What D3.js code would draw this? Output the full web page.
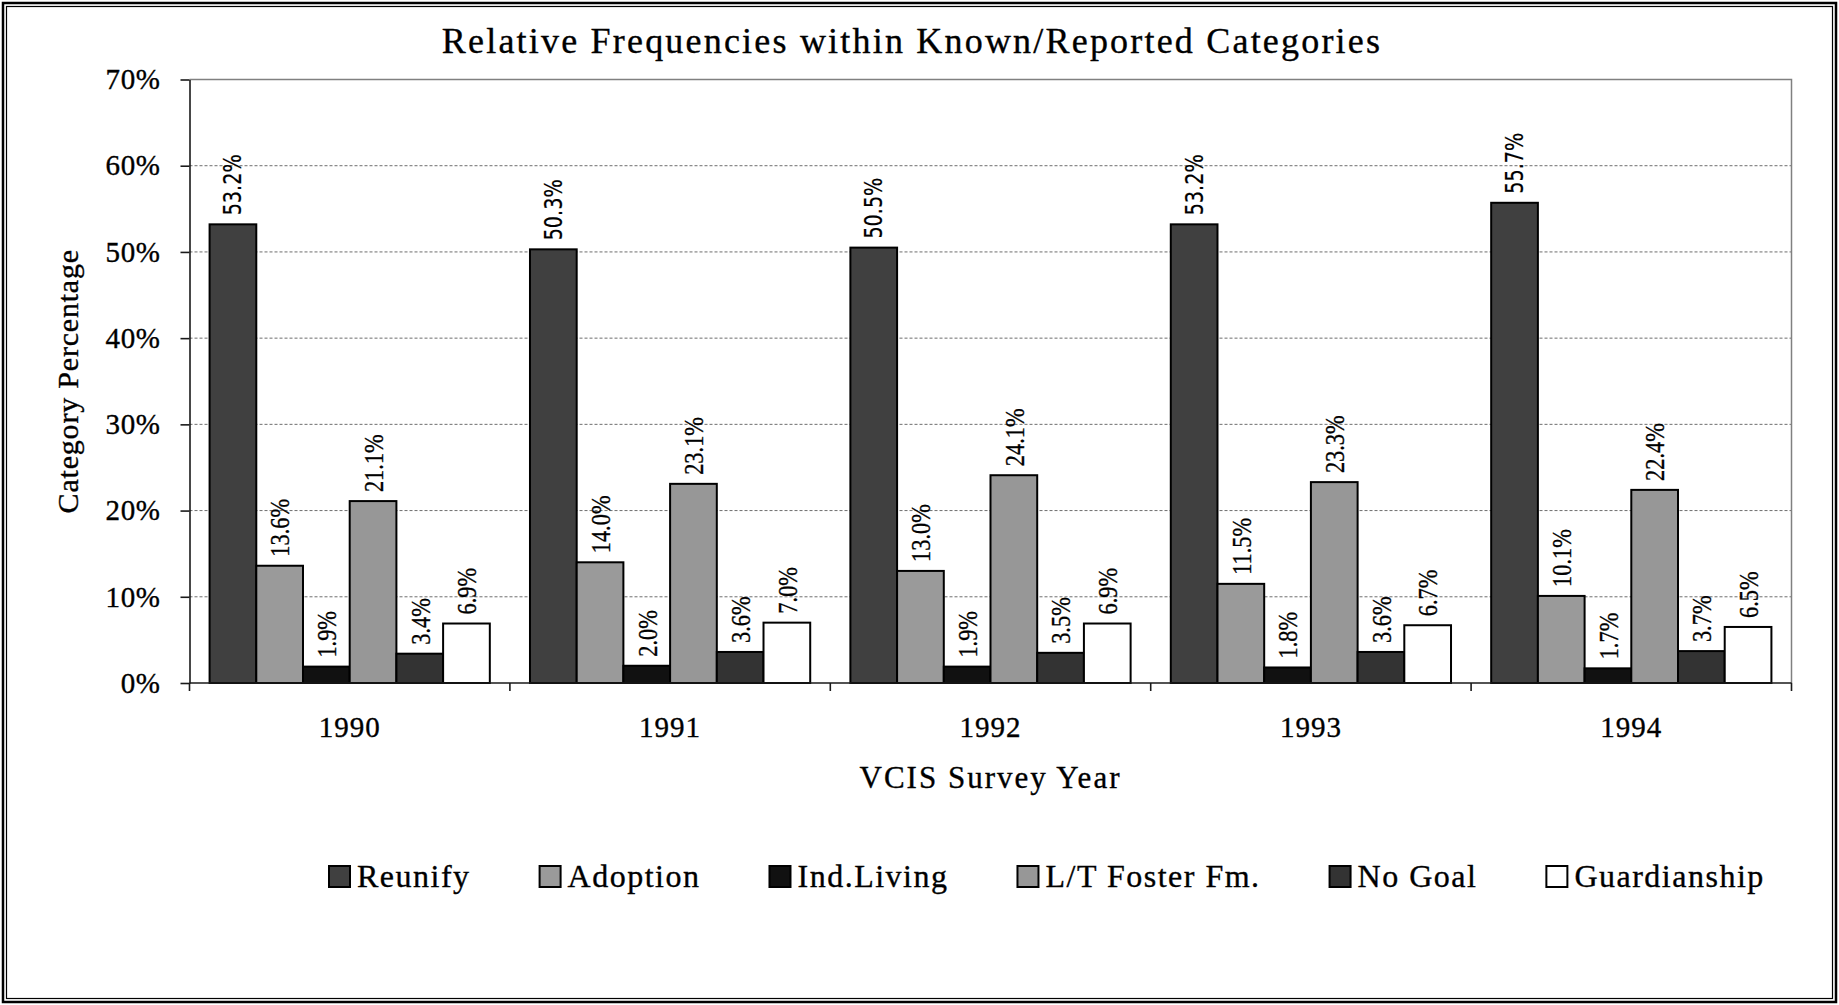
<!DOCTYPE html>
<html lang="en">
<head>
  <meta charset="UTF-8">
  <title>Relative Frequencies within Known/Reported Categories</title>
  <script src="https://d3js.org/d3.v7.min.js"></script>
  <style>
    body {
      margin: 0;
      background: #fff;
    }
    svg text {
      font-family: "Liberation Serif", "Times New Roman", Times, serif;
      fill: #000;
      stroke: #000;
      stroke-width: 0.35px;
    }
    svg text.sans {
      font-family: "DejaVu Sans", sans-serif;
      stroke-width: 0.2px;
    }
    .grid line {
      stroke: #6e6e6e;
      stroke-width: 1;
      stroke-dasharray: 3,2;
    }
    .axis path, .axis line {
      stroke: #1a1a1a;
      stroke-width: 1.6;
    }
  </style>
</head>
<body>
  <svg id="chart" width="1839" height="1005"></svg>

  <script>
    // values (percent)
    const years = ["1990", "1991", "1992", "1993", "1994"];
    const categories = ["Reunify", "Adoption", "Ind.Living", "L/T Foster Fm.", "No Goal", "Guardianship"];
    const reunify      = [53.2, 50.3, 50.5, 53.2, 55.7];
    const adoption     = [13.6, 14.0, 13.0, 11.5, 10.1];
    const indLiving    = [1.9, 2.0, 1.9, 1.8, 1.7];
    const fosterFm     = [21.1, 23.1, 24.1, 23.3, 22.4];
    const noGoal       = [3.4, 3.6, 3.5, 3.6, 3.7];
    const guardianship = [6.9, 7.0, 6.9, 6.7, 6.5];
    const yTicks = [0, 10, 20, 30, 40, 50, 60, 70];

    const series = [reunify, adoption, indLiving, fosterFm, noGoal, guardianship];
    const colors = ["#404040", "#9a9a9a", "#111111", "#979797", "#333333", "#ffffff"];

    const svg = d3.select("#chart"),
          W = +svg.attr("width"),
          H = +svg.attr("height");

    const margin = {top: 79.5, right: 47.5, bottom: 322, left: 189.5};
    const width = W - margin.left - margin.right,
          height = H - margin.top - margin.bottom;

    // double border round the chart area
    svg.append("rect").attr("x", 3).attr("y", 3).attr("width", W - 6).attr("height", H - 6)
      .attr("fill", "none").attr("stroke", "#000").attr("stroke-width", 2.5);
    svg.append("rect").attr("x", 6.5).attr("y", 6.5).attr("width", W - 13).attr("height", H - 13)
      .attr("fill", "none").attr("stroke", "#000").attr("stroke-width", 1.2);

    const g = svg.append("g")
      .attr("transform", `translate(${margin.left},${margin.top})`);

    const x0 = d3.scaleBand().domain(years).range([0, width]).padding(0);
    const x1 = d3.scaleBand().domain(d3.range(categories.length))
      .range([0, x0.bandwidth()]).paddingInner(0).paddingOuter(0.43);
    const y = d3.scaleLinear().domain([0, 70]).range([height, 0]);

    // grid lines
    g.append("g").attr("class", "grid")
      .selectAll("line")
      .data(yTicks.filter(t => t > 0 && t < 70))
      .join("line")
      .attr("x1", 0).attr("x2", width)
      .attr("y1", d => y(d)).attr("y2", d => y(d));

    // plot border top + right (grey)
    g.append("path")
      .attr("d", `M0,${y(70)}H${width}V${y(0)}`)
      .attr("fill", "none").attr("stroke", "#808080").attr("stroke-width", 1.5);

    // bars
    const groups = g.selectAll(".year")
      .data(years)
      .join("g")
      .attr("class", "year")
      .attr("transform", d => `translate(${x0(d)},0)`);

    groups.selectAll("rect")
      .data((yr, i) => series.map((s, j) => ({j, v: s[i]})))
      .join("rect")
      .attr("x", d => x1(d.j))
      .attr("width", x1.bandwidth())
      .attr("y", d => y(d.v))
      .attr("height", d => y(0) - y(d.v))
      .attr("fill", d => colors[d.j])
      .attr("stroke", "#000")
      .attr("stroke-width", 2);

    // rotated value labels (Reunify ones come out in a sans face in the original)
    groups.selectAll(".lbl")
      .data((yr, i) => series.map((s, j) => ({j, v: s[i]})))
      .join("text")
      .attr("class", d => d.j === 0 ? "lbl sans" : "lbl")
      .attr("transform", d =>
        `translate(${x1(d.j) + x1.bandwidth() / 2},${y(d.v) - 9}) rotate(-90) scale(0.8,1)`)
      .attr("dy", "0.35em")
      .style("font-size", d => d.j === 0 ? "24px" : "28px")
      .text(d => d.v.toFixed(1) + "%");

    // y axis
    const yAxis = g.append("g").attr("class", "axis")
      .call(d3.axisLeft(y).tickValues(yTicks).tickFormat(d => d + "%")
        .tickSize(9).tickSizeOuter(0).tickPadding(20));
    yAxis.attr("font-family", null);
    yAxis.selectAll("text")
      .style("font-size", "29px").style("letter-spacing", "0.6px");

    // x axis: ticks at the category boundaries, labels in the middle
    const xAxis = g.append("g").attr("class", "axis")
      .attr("transform", `translate(0,${height})`);
    xAxis.append("line").attr("x1", 0).attr("x2", width);
    xAxis.selectAll(".tk")
      .data(years.map(d => x0(d)).concat([width]))
      .join("line")
      .attr("class", "tk")
      .attr("x1", d => d).attr("x2", d => d)
      .attr("y1", 0).attr("y2", 8);
    xAxis.selectAll(".yr")
      .data(years)
      .join("text")
      .attr("class", "yr")
      .attr("x", d => x0(d) + x0.bandwidth() / 2)
      .attr("y", 54)
      .attr("text-anchor", "middle")
      .style("font-size", "29px").style("letter-spacing", "1px")
      .text(d => d);

    // axis titles
    svg.append("text")
      .attr("x", margin.left + width / 2)
      .attr("y", 788)
      .attr("text-anchor", "middle")
      .style("font-size", "31px").style("letter-spacing", "2px")
      .text("VCIS Survey Year");

    svg.append("text")
      .attr("transform", `translate(78,${margin.top + height / 2}) rotate(-90)`)
      .attr("text-anchor", "middle")
      .style("font-size", "30px").style("letter-spacing", "0.8px")
      .text("Category Percentage");

    // title
    svg.append("text")
      .attr("x", 912)
      .attr("y", 53)
      .attr("text-anchor", "middle")
      .style("font-size", "36px").style("letter-spacing", "2.2px")
      .text("Relative Frequencies within Known/Reported Categories");

    // legend
    const legend = svg.append("g").attr("transform", "translate(329,866)");
    let lx = 0;
    categories.forEach((key, i) => {
      const row = legend.append("g").attr("transform", `translate(${lx},0)`);
      row.append("rect")
        .attr("width", 21).attr("height", 21)
        .attr("fill", colors[i]).attr("stroke", "#000").attr("stroke-width", 2);
      const t = row.append("text")
        .attr("x", 28).attr("y", 21)
        .style("font-size", "32px").style("letter-spacing", "1.5px")
        .text(key);
      lx += 28 + t.node().getComputedTextLength() + 69;
    });
  </script>
</body>
</html>
